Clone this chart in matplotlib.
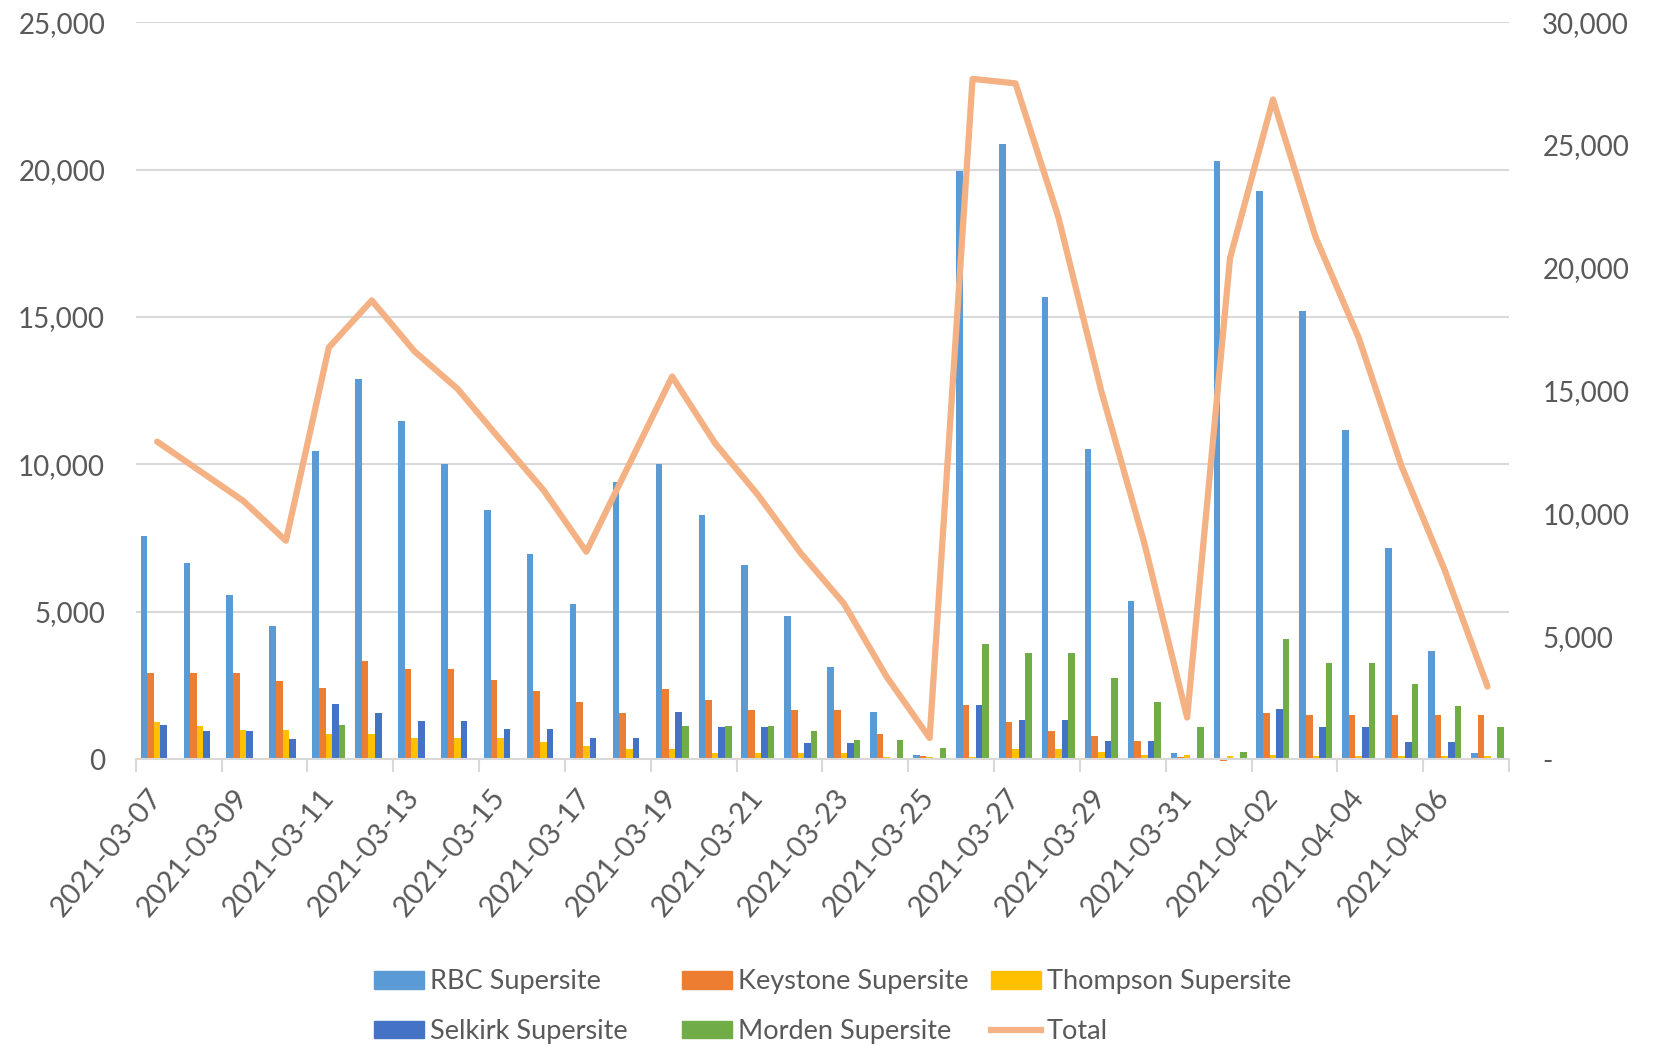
import pandas as pd
import matplotlib.pyplot as plt
from matplotlib.ticker import FuncFormatter, FixedLocator
from matplotlib.patches import Patch
from matplotlib.lines import Line2D

plt.rcParams['font.family'] = ['Lato', 'DejaVu Sans']

# Data
dates = pd.date_range('2021-03-07', '2021-04-07').strftime('%Y-%m-%d').tolist()

rbc = [7551, 6646, 5578, 4500, 10442, 12905, 11452, 10000, 8459, 6963, 5262,
       9408, 10000, 8290, 6578, 4854, 3129, 1610, 136, 19955, 20864, 15682,
       10530, 5348, 197, 20290, 19286, 15194, 11180, 7167, 3673, 194]
keystone = [2925, 2925, 2925, 2653, 2404, 3310, 3051, 3051, 2677, 2313, 1939,
            1565, 2370, 2007, 1646, 1646, 1646, 862, 90, 1833, 1258, 939,
            773, 606, 76, -60, 1575, 1486, 1486, 1486, 1486, 1486]
thompson = [1250, 1111, 986, 986, 850, 850, 714, 714, 714, 590, 452, 340, 340,
            204, 204, 204, 204, 57, 57, 60, 348, 348, 227, 152, 136, 106, 136,
            102, 102, 102, 102, 102]
selkirk = [1156, 952, 952, 680, 1860, 1565, 1293, 1293, 1010, 1010, 725, 703,
           1587, 1077, 1077, 556, 556, 20, 20, 1833, 1333, 1333, 606, 606, 0,
           0, 1700, 1088, 1088, 567, 567, 20]
morden = [0, 0, 0, 0, 1156, 0, 0, 0, 0, 0, 0, 0, 1134, 1134, 1134, 941, 657,
          657, 386, 3894, 3606, 3606, 2758, 1924, 1076, 238, 4082, 3242, 3242,
          2528, 1803, 1088]
total = [12923, 11720, 10518, 8888, 16755, 18671, 16592, 15072, 12992, 10954,
         8439, 12000, 15573, 12858, 10750, 8373, 6335, 3343, 856, 27692, 27510,
         22063, 14980, 8807, 1689, 20400, 26853, 21215, 17138, 11904, 7700, 2950]

series = [('RBC Supersite', rbc, '#5B9BD5'),
          ('Keystone Supersite', keystone, '#ED7D31'),
          ('Thompson Supersite', thompson, '#FFC000'),
          ('Selkirk Supersite', selkirk, '#4472C4'),
          ('Morden Supersite', morden, '#70AD47')]
total_color = '#F4B183'
text_color = '#595959'
grid_color = '#D9D9D9'

W, H = 1654, 1047
fig = plt.figure(figsize=(W / 100, H / 100), dpi=100)
ax = fig.add_axes([135.7 / W, 1 - 759 / H, (1509 - 135.7) / W, (759 - 22.2) / H])

x = list(range(len(dates)))
bw = 0.154
for k, (name, vals, col) in enumerate(series):
    ax.bar([i + (k - 2) * bw for i in x], vals, width=bw, color=col,
           label=name, clip_on=False, zorder=2)

ax.set_xlim(-0.5, len(dates) - 0.5)
ax.set_ylim(0, 25000)
ax.set_yticks(range(0, 25001, 5000))
ax.yaxis.set_major_formatter(FuncFormatter(lambda v, p: f'{int(v):,}'))
ax.grid(axis='y', color=grid_color, lw=1.5, zorder=0)
ax.set_axisbelow(True)

for s in ['left', 'right', 'top']:
    ax.spines[s].set_visible(False)
ax.spines['bottom'].set_color(grid_color)
ax.spines['bottom'].set_linewidth(1.5)

# tick marks every two days on category boundaries, labels on centres
ax.xaxis.set_major_locator(FixedLocator([i - 0.5 for i in range(0, len(dates) + 1, 2)]))
ax.xaxis.set_minor_locator(FixedLocator(x[::2]))
ax.set_xticklabels([])
ax.set_xticklabels(dates[::2], minor=True)
ax.tick_params(axis='x', which='major', length=9, width=1.5, color=grid_color)
ax.tick_params(axis='x', which='minor', length=0, pad=24)
for lab in ax.get_xticklabels(minor=True):
    lab.set_rotation(50)
    lab.set_rotation_mode('anchor')
    lab.set_ha('right')
    lab.set_va('center')
    lab.set_fontsize(21)
    lab.set_color(text_color)
ax.tick_params(axis='y', length=0, pad=22, labelsize=20, labelcolor=text_color)

ax2 = ax.twinx()
ax2.plot(x, total, color=total_color, lw=4.5, solid_joinstyle='round',
         solid_capstyle='round', label='Total', zorder=3)
ax2.set_ylim(0, 30000)
ax2.set_yticks(range(0, 30001, 5000))
ax2.yaxis.set_major_formatter(FuncFormatter(lambda v, p: '-' if v == 0 else f'{int(v):,}'))
ax2.tick_params(axis='y', length=0, pad=24, labelsize=20, labelcolor=text_color)
for s in ax2.spines.values():
    s.set_visible(False)

# legend: three columns laid out like the Excel legend
cols = [(374, [0, 3]), (682, [1, 4]), (991, [2, 5])]
handles = [Patch(color=c) for _, _, c in series] + [Line2D([], [], color=total_color, lw=4.5)]
labels = [n for n, _, _ in series] + ['Total']
for xpos, idx in cols:
    fig.legend([handles[i] for i in idx], [labels[i] for i in idx],
               loc='upper left', bbox_to_anchor=(xpos / W, 1 - 969.5 / H),
               frameon=False, fontsize=19.5, borderpad=0, borderaxespad=0,
               handlelength=1.85, handleheight=0.6, handletextpad=0.2,
               labelspacing=0.9, labelcolor=text_color)

fig.savefig('out.png', dpi=100)
